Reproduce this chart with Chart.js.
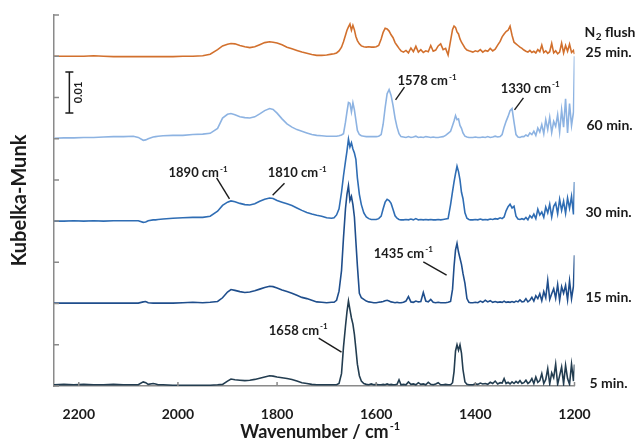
<!DOCTYPE html>
<html>
<head>
<meta charset="utf-8">
<script src="https://cdn.jsdelivr.net/npm/chart.js@4.4.1/dist/chart.umd.min.js"></script>
<style>
  html, body { margin: 0; padding: 0; background: #fff; }
  #wrap { width: 636px; height: 443px; }
</style>
</head>
<body>
<div id="wrap"><canvas id="spectra" width="636" height="443"></canvas></div>
<script>
// wavenumber grid (cm-1), finer around the bands and in the noisy end
const wavenumbers = [
  2250, 2230, 2210, 2190, 2170, 2150, 2130, 2110, 2090,
  2080, 2070, 2065, 2060, 2050, 2045, 2040, 2030,
  2010, 1990, 1970, 1950,
  1935, 1920, 1910, 1900, 1893,
  1885, 1875, 1865, 1855, 1845, 1835, 1825, 1815,
  1808,
  1800, 1790, 1780, 1770, 1760, 1750, 1740, 1730, 1720, 1710, 1700, 1690,
  1685, 1680, 1675, 1670, 1666, 1662, 1659, 1656, 1653, 1650, 1647, 1644, 1641, 1638, 1634, 1630, 1625, 1620, 1615, 1610,
  1605, 1600, 1595, 1590, 1586, 1582, 1578, 1574, 1570, 1566, 1562, 1558, 1554, 1550,
  1545, 1540, 1535, 1530, 1525, 1520, 1515, 1510, 1505, 1500, 1495, 1490, 1485, 1480, 1475, 1470, 1465, 1460, 1455,
  1450, 1446, 1443, 1440, 1437, 1434, 1431, 1428, 1425, 1421, 1417, 1413, 1410,
  1405, 1400, 1395, 1390, 1385, 1380, 1375, 1370, 1365, 1360, 1355, 1350,
  1346, 1342, 1338, 1334, 1330, 1326, 1322, 1318, 1314, 1310, 1306,
  1302, 1298, 1294, 1290, 1286, 1282, 1278, 1274, 1270, 1266, 1262, 1258, 1254,
  1250, 1246, 1242, 1238, 1234, 1230, 1226, 1222, 1218, 1214, 1210, 1206, 1202, 1200
];

// Kubelka-Munk above each trace's own baseline, in units of 0.001
const min5 = [
  0.3, 0.4, 0.3, 0.4, 0.3, 0.3, 0.4, 0.3, 0.3,
  0.3, 1.0, 0.8, 0.4, 0.6, 0.5, 0.3, 0.3,
  0.2, 0.2, 0.2, 0.2,
  0.2, 0.3, 0.4, 1.2, 1.7,
  1.5, 1.4, 1.3, 1.4, 1.6, 1.9, 2.2, 2.5,
  2.4,
  2.2, 2.0, 1.8, 1.6, 1.2, 0.8, 0.6, 0.4, 0.3, 0.3, 0.3, 0.3,
  0.3, 0.3, 0.6, 3.0, 9.5, 14.5, 18.0, 20.6, 18.5, 16.5, 15.0, 12.5, 9.0, 5.3, 2.5, 1.2, 0.6, 0.4, 0.3, 0.5,
  0.3, 0.4, 0.3, 0.3, 0.4, 0.3, 0.5, 0.3, 0.4, 0.3, 0.3, 0.4, 1.5, 0.3,
  0.4, 0.3, 1.0, 0.4, 0.5, 0.3, 0.8, 0.4, 0.5, 0.3, 0.9, 0.4, 0.3, 0.5, 0.8, 0.3, 0.3, 0.4, 0.3,
  0.3, 0.8, 3.5, 8.5, 10.0, 8.7, 10.0, 8.0, 4.0, 1.0, 0.4, 0.3, 0.3,
  0.3, 0.5, 0.4, 0.7, 0.5, 0.6, 0.4, 0.9, 0.6, 1.2, 0.5, 0.8,
  0.7, 1.8, 0.6, 0.9, 0.5, 1.0, 0.6, 1.1, 0.7, 1.3, 0.6,
  0.8, 1.4, 0.6, 1.0, 1.8, 0.6, 2.2, 0.9, 1.3, 3.0, 0.6, 1.6, 4.2,
  0.5, 3.2, 2.0, 5.3, 0.4, 2.5, 4.6, 0.5, 5.0, 1.8, 0.4, 5.3, 1.2, 5.2
];
const min15 = [
  0.1, 0.1, 0.1, 0.1, 0.1, 0.1, 0.1, 0.1, 0.1,
  0.1, 0.4, 0.5, 0.2, 0.1, 0.1, 0.1, 0.1,
  0.1, 0.2, 0.3, 0.2,
  0.3, 0.5, 1.4, 2.8, 3.4,
  3.2, 2.9, 2.7, 2.8, 3.1, 3.5, 3.9, 4.2,
  4.1,
  3.8, 3.3, 2.9, 2.5, 2.0, 1.5, 1.2, 0.8, 0.4, 0.3, 0.2, 0.3,
  0.3, 0.8, 3.0, 8.0, 16.0, 23.0, 26.5, 28.6, 25.0, 26.0, 24.0, 21.0, 15.0, 9.2, 2.5, 1.4, 1.0, 0.6, 0.4, 0.3,
  0.2, 0.2, 0.3, 0.4, 0.5, 0.7, 0.8, 0.6, 0.4, 0.3, 0.2, 0.3, 0.2, 0.2,
  0.3, 0.6, 1.7, 0.4, 0.3, 0.6, 0.4, 0.5, 2.7, 0.6, 0.4, 1.0, 0.3, 0.2, 0.3, 0.2, 0.2, 0.2, 0.3,
  0.5, 3.5, 9.0, 13.0, 14.6, 12.5, 11.0, 9.5, 7.3, 4.9, 1.2, 0.3, 0.2,
  0.2, 0.3, 0.2, 0.6, 0.3, 0.8, 0.4, 0.7, 0.3, 0.5, 0.3, 0.4,
  0.3, 0.6, 0.3, 0.4, 0.3, 0.5, 0.3, 0.6, 0.4, 0.9, 0.4,
  0.5, 1.2, 0.4, 0.8, 1.5, 0.6, 1.9, 1.2, 2.4, 0.7, 2.9, 1.4, 5.6,
  1.0, 2.4, 3.6, 1.3, 4.6, 0.8, 4.1, 2.5, 4.4, 0.9, 5.5, 1.2, 4.3, 11.7
];
const min30 = [
  0.0, 0.0, 0.1, 0.0, 0.1, 0.0, 0.1, 0.1, 0.1,
  0.1, -0.3, -0.2, 0.1, 0.3, 0.3, 0.4, 0.5,
  0.7, 0.8, 0.9, 0.9,
  1.2, 2.4, 3.8, 4.6, 4.9,
  4.7, 4.3, 4.0, 3.9, 4.2, 4.8, 5.3, 5.6,
  5.5,
  5.0, 4.6, 4.2, 3.8, 3.2, 2.6, 2.1, 1.7, 1.4, 1.2, 0.8, 0.7,
  0.8, 1.5, 3.0, 7.0, 11.0, 14.5, 17.0, 19.9, 18.0, 19.0, 17.5, 16.5, 15.0, 10.5, 6.5, 4.0, 2.0, 1.0, 0.6, 0.4,
  0.4, 0.4, 0.6, 1.2, 3.0, 4.6, 5.3, 5.0, 4.3, 2.8, 1.3, 0.7, 0.4, 0.3,
  0.3, 0.4, 0.3, 0.5, 0.3, 0.6, 0.3, 0.4, 0.3, 0.4, 0.3, 0.4, 0.3, 0.3, 0.4, 0.3, 0.4, 0.5, 0.6,
  4.0, 7.2, 9.5, 11.5, 13.3, 12.0, 10.0, 7.0, 5.5, 2.0, 0.7, 0.4, 0.3,
  0.3, 0.4, 0.3, 0.5, 0.3, 0.4, 0.3, 0.5, 0.4, 0.6, 0.5, 0.8,
  0.6, 1.0, 2.5, 3.5, 4.1, 3.2, 3.6, 1.2, 0.5, 0.4, 0.6,
  0.4, 0.9, 0.3, 1.3, 0.8, 1.7, 0.6, 2.9, 1.5, 2.2, 0.9, 3.4, 2.0,
  4.1, 1.0, 3.6, 4.4, 1.8, 5.3, 2.6, 4.8, 1.9, 5.6, 3.1, 6.0, 1.6, 9.5
];
const min60 = [
  0.1, 0.2, 0.2, 0.3, 0.3, 0.4, 0.5, 0.5, 0.6,
  0.3, -0.4, -0.3, 0.0, 0.4, 0.5, 0.6, 0.7,
  0.8, 0.8, 1.0, 1.1,
  1.3, 2.5, 5.0, 5.9, 6.1,
  5.8, 5.3, 5.1, 5.0, 5.3, 6.0, 6.8, 7.3,
  7.1,
  6.2, 4.8, 3.6, 2.8, 2.2, 1.8, 1.4, 1.0, 0.8, 0.7, 0.6, 0.6,
  0.6, 0.6, 0.7, 0.9, 1.2, 4.0, 6.5, 8.8, 8.6, 6.5, 8.7, 7.0, 4.5, 2.0, 1.0, 0.7, 0.6, 0.5, 0.5, 0.5,
  0.5, 0.5, 0.6, 1.0, 3.5, 7.5, 10.9, 11.9, 10.5, 8.0, 5.0, 2.8, 1.2, 0.5,
  0.4, 0.3, 0.5, 0.3, 0.4, 0.6, 0.3, 0.4, 0.3, 0.5, 0.4, 0.3, 0.4, 0.3, 0.3, 0.4, 0.5, 0.8, 1.3,
  1.8, 3.2, 4.3, 5.6, 4.6, 4.8, 3.2, 2.5, 1.4, 0.6, 0.4, 0.3, 0.3,
  0.3, 0.4, 0.3, 0.3, 0.4, 0.3, 0.5, 0.3, 0.4, 0.6, 0.4, 0.5,
  1.0, 2.8, 4.2, 5.4, 6.8, 7.3, 4.0, 1.0, 0.4, 0.3, 0.5,
  0.5, 0.9, 0.6, 1.4, 1.0, 1.8, 0.8, 2.6, 1.6, 3.4, 1.2, 4.6, 2.2,
  5.2, 1.5, 4.2, 3.0, 5.8, 1.6, 7.0, 2.8, 9.7, 1.4, 8.5, 3.2, 6.5, 20.0
];
const flush25 = [
  0.0, 0.0, 0.0, 0.0, 0.1, 0.0, -0.1, -0.1, -0.1,
  -0.1, -0.1, -0.1, -0.1, -0.1, -0.1, -0.1, -0.1,
  -0.1, 0.0, 0.0, 0.1,
  0.5, 1.6, 2.5, 2.9, 3.1,
  3.0, 2.6, 2.3, 2.1, 2.3, 2.8, 3.3, 3.5,
  3.4,
  3.2, 2.8, 2.2, 1.8, 1.4, 1.0, 0.7, 0.4, 0.2, 0.2, 0.3, 0.5,
  0.6, 0.8, 1.3, 2.2, 3.5, 5.1, 6.3, 7.1, 7.8, 6.3, 7.5, 6.4, 4.8, 3.8, 3.0, 2.5, 2.3, 2.2, 2.3, 2.2,
  2.2, 2.3, 2.6, 4.2, 5.8, 6.8, 6.6, 6.1, 5.2, 4.5, 3.3, 2.6, 1.9, 1.3,
  1.0, 1.4, 0.8, 2.0, 1.1, 2.4, 1.0, 1.6, 0.9, 1.3, 1.1, 2.6, 1.2, 1.5, 2.5, 3.0, 1.6, 1.9, 0.3,
  3.8, 6.5, 7.3, 7.0, 5.9, 5.4, 4.2, 3.4, 2.8, 2.0, 1.5, 1.3, 1.2,
  1.0, 1.3, 1.1, 1.6, 1.0, 1.4, 1.2, 1.9, 1.3, 1.7, 2.7, 3.6,
  4.7, 5.4, 6.0, 6.3, 7.3, 5.1, 3.4, 3.0, 2.6, 2.2, 1.9,
  1.5, 1.2, 1.0, 1.4, 0.9, 1.2, 0.8, 1.6, 1.1, 2.7, 0.9, 1.3, 0.7,
  1.1, 3.1, 0.8, 1.3, 0.6, 1.0, 3.2, 0.8, 2.6, 1.2, 2.9, 0.9, 1.4, 0.5
];

const traceNames = ['5 min.', '15 min.', '30 min.', '60 min.', '25 min.'];
const traceValues = [min5, min15, min30, min60, flush25];
const traceOffsets = [0, 20, 40, 60, 80];   // vertical stacking, same units
const traceColors = ['#233d50', '#1f4e8c', '#2f6db4', '#8db3e2', '#d2702d'];
const xTicks = [2200, 2000, 1800, 1600, 1400, 1200];
const yTicks = [0, 0.01, 0.02, 0.03, 0.04, 0.05, 0.06, 0.07, 0.08, 0.09];
const UNIT = 0.001;

const FONT = 'Lato, "Open Sans", sans-serif';
const INK = '#1b1b1b';
const AXIS = '#8a8a8a';

// band labels: text anchor and leader line, in (cm-1, KM/0.001)
const bandLabels = [
  { text: '1890 cm', at: [2019, 50.7], line: [[1922, 50.5], [1896, 45.4]] },
  { text: '1810 cm', at: [1819, 50.7], line: [[1785, 49.2], [1809, 46.3]] },
  { text: '1578 cm', at: [1557, 73.0], line: [[1543, 72.5], [1561, 69.4]] },
  { text: '1330 cm', at: [1349, 71.1], line: [[1303, 69.9], [1321, 67.0]] },
  { text: '1435 cm', at: [1605, 31.1], line: [[1505, 30.1], [1458, 26.9]] },
  { text: '1658 cm', at: [1817, 12.4], line: [[1716, 11.6], [1670, 8.2]] }
];
// right-hand trace names: KM/0.001 of the text baseline, px right of plot
const sideLabels = [
  { v: -0.5, dx: 15, i: 0 },
  { v: 20.4, dx: 11, i: 1 },
  { v: 41.0, dx: 11, i: 2 },
  { v: 62.1, dx: 12, i: 3 },
  { v: 79.8, dx: 11, i: 4 }
];

function supText(ctx, x, y, base, sup, size) {
  ctx.font = 'bold ' + size + 'px ' + FONT;
  ctx.textAlign = 'left';
  ctx.textBaseline = 'alphabetic';
  ctx.fillText(base, x, y);
  const w = ctx.measureText(base).width;
  ctx.font = 'bold ' + Math.round(size * 0.62) + 'px ' + FONT;
  ctx.fillText(sup, x + w + 1, y - size * 0.42);
  return w + 1 + ctx.measureText(sup).width;
}

const decorations = {
  id: 'decorations',
  afterDraw(chart) {
    const ctx = chart.ctx;
    const xs = chart.scales.x, ys = chart.scales.y;
    const area = chart.chartArea;
    const px = w => xs.getPixelForValue(w);
    const py = v => ys.getPixelForValue(v * UNIT);
    ctx.save();

    // inside tick marks
    ctx.strokeStyle = AXIS;
    ctx.lineWidth = 1.5;
    ctx.beginPath();
    ys.ticks.forEach(t => {
      const y = ys.getPixelForValue(t.value);
      ctx.moveTo(area.left, y); ctx.lineTo(area.left + 5, y);
    });
    xs.ticks.forEach(t => {
      const x = xs.getPixelForValue(t.value);
      ctx.moveTo(x, area.bottom); ctx.lineTo(x, area.bottom - 4);
    });
    ctx.stroke();

    // 0.01 scale bar
    const bx = px(2219), b0 = py(66.2), b1 = py(76.2);
    ctx.strokeStyle = INK;
    ctx.lineWidth = 1.5;
    ctx.beginPath();
    ctx.moveTo(bx, b0); ctx.lineTo(bx, b1);
    ctx.moveTo(bx - 4, b0); ctx.lineTo(bx + 4, b0);
    ctx.moveTo(bx - 4, b1); ctx.lineTo(bx + 4, b1);
    ctx.stroke();
    ctx.fillStyle = INK;
    ctx.save();
    ctx.translate(bx + 9, (b0 + b1) / 2);
    ctx.rotate(-Math.PI / 2);
    ctx.font = 'bold 11px ' + FONT;
    ctx.textAlign = 'center';
    ctx.textBaseline = 'middle';
    ctx.fillText('0.01', 0, 0);
    ctx.restore();

    // band labels with leader lines
    bandLabels.forEach(b => {
      supText(ctx, px(b.at[0]), py(b.at[1]), b.text, '-1', 13);
      ctx.beginPath();
      ctx.lineWidth = 1.4;
      ctx.moveTo(px(b.line[0][0]), py(b.line[0][1]));
      ctx.lineTo(px(b.line[1][0]), py(b.line[1][1]));
      ctx.stroke();
    });

    // trace names on the right
    ctx.font = 'bold 14px ' + FONT;
    ctx.textAlign = 'left';
    ctx.textBaseline = 'alphabetic';
    sideLabels.forEach(s => {
      ctx.fillText(traceNames[s.i], area.right + s.dx, py(s.v));
    });
    // N2 flush, with subscript
    const nx = area.right + 10, ny = py(84.7);
    ctx.fillText('N', nx, ny);
    let w = ctx.measureText('N').width;
    ctx.font = 'bold 10px ' + FONT;
    ctx.fillText('2', nx + w + 0.5, ny + 3);
    w += 0.5 + ctx.measureText('2').width;
    ctx.font = 'bold 14px ' + FONT;
    ctx.fillText(' flush', nx + w, ny);

    // x axis title
    ctx.font = 'bold 18px ' + FONT;
    const tw = ctx.measureText('Wavenumber / cm').width + 13;
    supText(ctx, 321 - tw / 2, 438, 'Wavenumber / cm', '-1', 18);

    ctx.restore();
  }
};

const datasets = traceValues.map((vals, k) => ({
  label: traceNames[k],
  data: wavenumbers.map((w, i) => ({ x: w, y: (traceOffsets[k] + vals[i]) * UNIT })),
  borderColor: traceColors[k],
  borderWidth: 1.6,
  pointRadius: 0,
  tension: 0,
  fill: false
}));

new Chart(document.getElementById('spectra'), {
  type: 'line',
  data: { datasets: datasets },
  options: {
    responsive: false,
    animation: false,
    devicePixelRatio: 1,
    layout: { padding: { top: 15, right: 61.5, left: 0, bottom: 0 } },
    plugins: { legend: { display: false }, tooltip: { enabled: false } },
    scales: {
      x: {
        type: 'linear',
        min: 1200,
        max: 2250,
        reverse: true,
        afterBuildTicks: s => { s.ticks = xTicks.map(v => ({ value: v })); },
        afterFit: s => { s.height = 57; },
        grid: { display: false },
        border: { display: true, color: AXIS, width: 1.5 },
        ticks: {
          color: INK,
          padding: 12,
          maxRotation: 0,
          autoSkip: false,
          callback: v => String(v),
          font: { family: FONT, weight: 'bold', size: 14 }
        }
      },
      y: {
        min: 0,
        max: 0.09,
        afterBuildTicks: s => { s.ticks = yTicks.map(v => ({ value: v })); },
        afterFit: s => { s.width = 54; },
        grid: { display: false },
        border: { display: true, color: AXIS, width: 1.5 },
        ticks: { display: false },
        title: {
          display: true,
          text: 'Kubelka-Munk',
          color: INK,
          padding: { top: 8, bottom: 0 },
          font: { family: FONT, weight: 'bold', size: 20 }
        }
      }
    }
  },
  plugins: [decorations]
});
</script>
</body>
</html>
